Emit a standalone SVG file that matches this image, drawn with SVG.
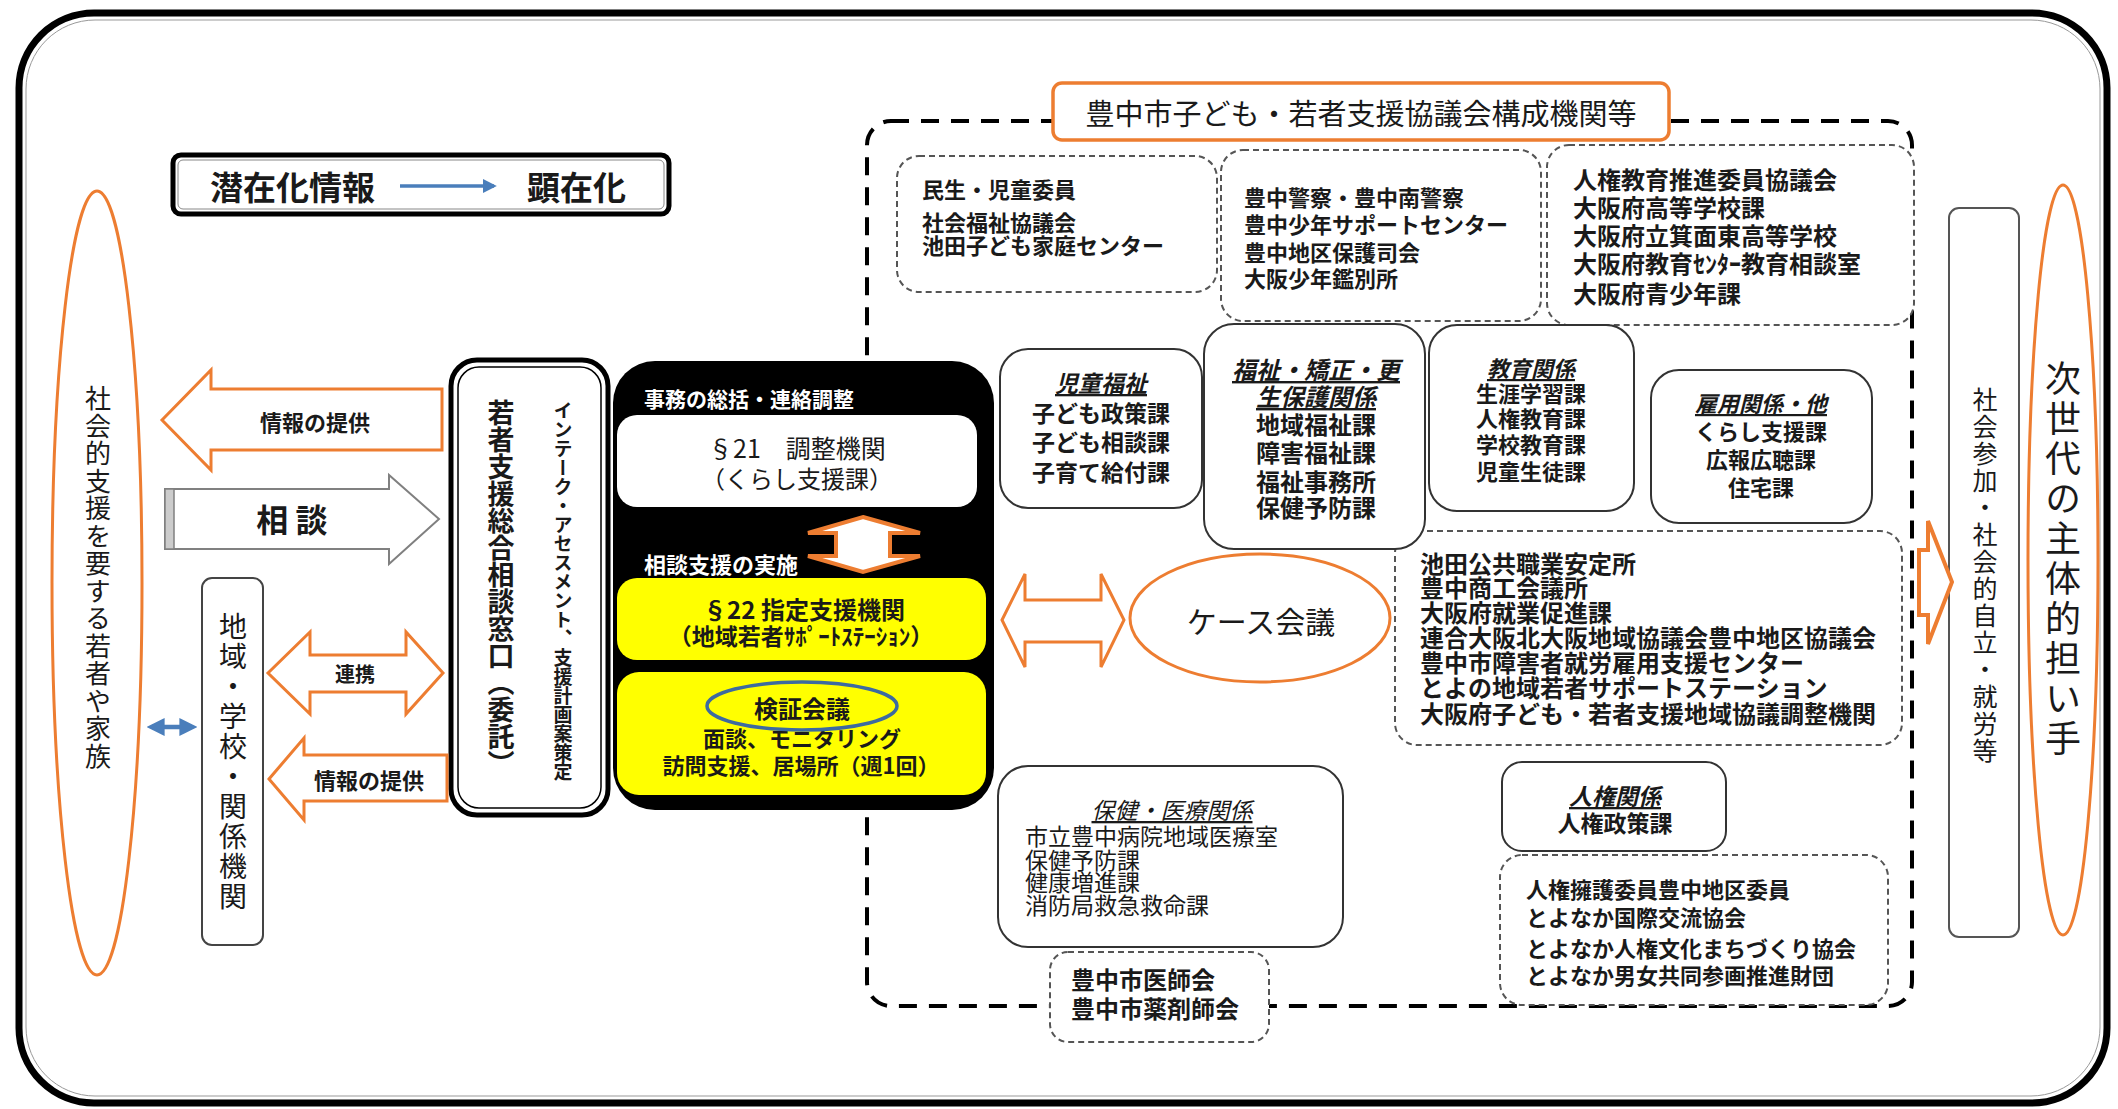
<svg xmlns="http://www.w3.org/2000/svg" width="2118" height="1109" viewBox="0 0 2118 1109">
<defs>
<style>
text{font-family:"Noto Sans CJK JP","Noto Sans CJK SC",sans-serif;fill:#1a1a1a;dominant-baseline:central;}
.b{font-weight:bold;}
.w{fill:#ffffff;font-weight:bold;}
.m{text-anchor:middle;}
.v{writing-mode:vertical-rl;text-anchor:middle;dominant-baseline:auto;}
.hd{font-style:italic;text-decoration:underline;}
.org{fill:#ffffff;stroke:#ed7d31;stroke-width:3;}
.dbox{fill:#ffffff;stroke:#555555;stroke-width:2;stroke-dasharray:6 4;}
.sbox{fill:#ffffff;stroke:#333333;stroke-width:2;}
.yel{fill:#ffff00;stroke:none;}
</style>
<marker id="bh" viewBox="0 0 10 10" refX="7" refY="5" markerWidth="4" markerHeight="4" orient="auto-start-reverse"><path d="M0,0 L10,5 L0,10 z" fill="#4a7ebb"/></marker>
<marker id="ah" viewBox="0 0 10 10" refX="8" refY="5" markerWidth="4" markerHeight="4" orient="auto"><path d="M0,0 L10,5 L0,10 z" fill="#4a7ebb"/></marker>
</defs>

<rect x="0" y="0" width="2118" height="1109" fill="#ffffff"/>

<!-- outer frame -->
<g id="frame">
<rect x="19" y="13" width="2088" height="1090" rx="75" fill="none" stroke="#000" stroke-width="7"/>
<rect x="26" y="20" width="2074" height="1076" rx="69" fill="none" stroke="#999" stroke-width="1"/>
</g>

<!-- big dashed frame -->
<g id="council-frame">
<rect x="867" y="121" width="1045" height="885" rx="24" fill="none" stroke="#000" stroke-width="4" stroke-dasharray="18 12"/>
</g>

<!-- legend -->
<g id="legend">
<rect x="173" y="155" width="496" height="59" rx="8" fill="#fff" stroke="#000" stroke-width="5"/>
<rect x="178" y="160" width="486" height="49" rx="5" fill="none" stroke="#888" stroke-width="1"/>
<text x="210" y="186" class="b" font-size="33">潜在化情報</text>
<text x="527" y="186" class="b" font-size="33">顕在化</text>
<line x1="400" y1="186" x2="494" y2="186" stroke="#4a7ebb" stroke-width="3.5" marker-end="url(#ah)"/>
</g>

<!-- left ellipse -->
<g id="youth">
<ellipse cx="97" cy="583" rx="45" ry="392" fill="none" stroke="#ed7d31" stroke-width="3"/>
<text x="98" y="578" class="v" font-size="26" letter-spacing="1.5" fill="#333">社会的支援を要する若者や家族</text>
</g>

<!-- region box -->
<g id="region">
<rect x="202" y="578" width="61" height="367" rx="10" fill="#fff" stroke="#444" stroke-width="2"/>
<text x="233" y="762" class="v" font-size="28" letter-spacing="2">地域・学校・関係機関</text>
</g>

<!-- consultation window -->
<g id="window">
<rect x="451" y="360" width="157" height="455" rx="26" fill="#fff" stroke="#000" stroke-width="5"/>
<rect x="458" y="367" width="143" height="441" rx="21" fill="none" stroke="#000" stroke-width="1.5"/>
<text x="501" y="588" class="v b" font-size="27">若者支援総合相談窓口（委託）</text>
<text x="563" y="591" class="v b" font-size="19">インテーク・アセスメント、支援計画案策定</text>
</g>

<!-- black box -->
<g id="core">
<rect x="613" y="361" width="381" height="449" rx="42" fill="#000"/>
<text x="644" y="398" class="w" font-size="21">事務の総括・連絡調整</text>
<rect x="617" y="415" width="360" height="92" rx="20" fill="#fff"/>
<text class="m" font-size="25"><tspan x="797" y="447">§21　調整機関</tspan><tspan x="797" y="477" font-size="24">（くらし支援課）</tspan></text>
<text x="644" y="563" class="w" font-size="22">相談支援の実施</text>
<rect x="617" y="578" width="369" height="82" rx="20" class="yel"/>
<text class="m b" font-size="24"><tspan x="804" y="608">§22 指定支援機関</tspan><tspan x="801" y="635" font-size="23">（地域若者ｻﾎﾟｰﾄｽﾃｰｼｮﾝ）</tspan></text>
<rect x="617" y="672" width="369" height="123" rx="22" class="yel"/>
<text class="m b" font-size="22"><tspan x="802" y="707" font-size="24">検証会議</tspan><tspan x="802" y="737">面談、モニタリング</tspan><tspan x="801" y="764">訪問支援、居場所（週1回）</tspan></text>
<ellipse cx="802" cy="706" rx="95" ry="24" fill="none" stroke="#3d6aa0" stroke-width="3.5"/>
</g>

<!-- council title -->
<g id="council-title">
<rect x="1053" y="83" width="616" height="57" rx="9" fill="#fff" stroke="#ed7d31" stroke-width="3.5"/>
<text x="1361" y="112" class="m" font-size="29" fill="#333">豊中市子ども・若者支援協議会構成機関等</text>
</g>

<!-- dashed member boxes -->
<g id="box-minsei">
<rect x="897" y="156" width="320" height="136" rx="22" class="dbox"/>
<text class="b" font-size="22"><tspan x="922" y="188">民生・児童委員</tspan><tspan x="922" y="221">社会福祉協議会</tspan><tspan x="922" y="244">池田子ども家庭センター</tspan></text>
</g>
<g id="box-police">
<rect x="1221" y="150" width="320" height="171" rx="22" class="dbox"/>
<text class="b" font-size="22"><tspan x="1244" y="196">豊中警察・豊中南警察</tspan><tspan x="1244" y="223">豊中少年サポートセンター</tspan><tspan x="1244" y="251">豊中地区保護司会</tspan><tspan x="1244" y="277">大阪少年鑑別所</tspan></text>
</g>
<g id="box-jinken-edu">
<rect x="1547" y="145" width="367" height="180" rx="22" class="dbox"/>
<text class="b" font-size="24"><tspan x="1573" y="178">人権教育推進委員協議会</tspan><tspan x="1573" y="206">大阪府高等学校課</tspan><tspan x="1573" y="234">大阪府立箕面東高等学校</tspan><tspan x="1573" y="262">大阪府教育ｾﾝﾀｰ教育相談室</tspan><tspan x="1573" y="292">大阪府青少年課</tspan></text>
</g>
<g id="box-employment-org">
<rect x="1395" y="531" width="507" height="214" rx="22" class="dbox"/>
<text class="b" font-size="24"><tspan x="1420" y="562">池田公共職業安定所</tspan><tspan x="1420" y="586">豊中商工会議所</tspan><tspan x="1420" y="611">大阪府就業促進課</tspan><tspan x="1420" y="636">連合大阪北大阪地域協議会豊中地区協議会</tspan><tspan x="1420" y="661">豊中市障害者就労雇用支援センター</tspan><tspan x="1420" y="686">とよの地域若者サポートステーション</tspan><tspan x="1420" y="712">大阪府子ども・若者支援地域協議調整機関</tspan></text>
</g>
<g id="box-medical-assoc">
<rect x="1050" y="952" width="219" height="90" rx="18" class="dbox"/>
<text class="b" font-size="24"><tspan x="1071" y="978">豊中市医師会</tspan><tspan x="1071" y="1007">豊中市薬剤師会</tspan></text>
</g>
<g id="box-jinken-org">
<rect x="1500" y="855" width="388" height="150" rx="22" class="dbox"/>
<text class="b" font-size="22"><tspan x="1526" y="888">人権擁護委員豊中地区委員</tspan><tspan x="1526" y="916">とよなか国際交流協会</tspan><tspan x="1526" y="947">とよなか人権文化まちづくり協会</tspan><tspan x="1526" y="974">とよなか男女共同参画推進財団</tspan></text>
</g>

<!-- solid department boxes -->
<g id="box-child">
<rect x="1000" y="349" width="202" height="159" rx="28" class="sbox"/>
<text class="m b" font-size="23"><tspan x="1101" y="382" class="hd">児童福祉</tspan><tspan x="1101" y="412">子ども政策課</tspan><tspan x="1101" y="441">子ども相談課</tspan><tspan x="1101" y="471">子育て給付課</tspan></text>
</g>
<g id="box-welfare">
<rect x="1204" y="324" width="221" height="225" rx="30" class="sbox"/>
<text class="m b" font-size="24"><tspan x="1316" y="368" class="hd">福祉・矯正・更</tspan><tspan x="1316" y="395" class="hd">生保護関係</tspan><tspan x="1316" y="423">地域福祉課</tspan><tspan x="1316" y="451">障害福祉課</tspan><tspan x="1316" y="480">福祉事務所</tspan><tspan x="1316" y="506">保健予防課</tspan></text>
</g>
<g id="box-education">
<rect x="1429" y="325" width="205" height="186" rx="28" class="sbox"/>
<text class="m b" font-size="22"><tspan x="1531" y="367" class="hd">教育関係</tspan><tspan x="1531" y="392">生涯学習課</tspan><tspan x="1531" y="417">人権教育課</tspan><tspan x="1531" y="443">学校教育課</tspan><tspan x="1531" y="470">児童生徒課</tspan></text>
</g>
<g id="box-employment">
<rect x="1651" y="370" width="221" height="153" rx="28" class="sbox"/>
<text class="m b" font-size="22"><tspan x="1761" y="402" class="hd">雇用関係・他</tspan><tspan x="1761" y="430">くらし支援課</tspan><tspan x="1761" y="458">広報広聴課</tspan><tspan x="1761" y="486">住宅課</tspan></text>
</g>
<g id="box-health">
<rect x="998" y="766" width="345" height="181" rx="30" class="sbox"/>
<text font-size="23"><tspan x="1172" y="809" class="hd m">保健・医療関係</tspan><tspan x="1025" y="835">市立豊中病院地域医療室</tspan><tspan x="1025" y="859">保健予防課</tspan><tspan x="1025" y="881">健康増進課</tspan><tspan x="1025" y="904">消防局救急救命課</tspan></text>
</g>
<g id="box-jinken">
<rect x="1502" y="762" width="224" height="89" rx="20" class="sbox"/>
<text class="m b" font-size="23"><tspan x="1615" y="795" class="hd">人権関係</tspan><tspan x="1615" y="822">人権政策課</tspan></text>
</g>

<!-- case meeting -->
<g id="case-meeting">
<ellipse cx="1260" cy="618" rx="130" ry="64" fill="#fff" stroke="#ed7d31" stroke-width="3"/>
<text x="1261" y="620" class="m" font-size="30">ケース会議</text>
</g>

<!-- outcome box -->
<g id="outcome">
<rect x="1949" y="208" width="70" height="729" rx="10" fill="#fff" stroke="#555" stroke-width="2"/>
<text x="1985" y="576" class="v" font-size="25" letter-spacing="2" fill="#333">社会参加・社会的自立・就労等</text>
</g>

<!-- next generation ellipse -->
<g id="next-gen">
<ellipse cx="2063" cy="560" rx="35" ry="375" fill="none" stroke="#ed7d31" stroke-width="3"/>
<text x="2063" y="560" class="v" font-size="36" letter-spacing="4">次世代の主体的担い手</text>
</g>

<!-- connectors -->
<g id="connectors">
<polygon class="org" points="162,420 211,370 211,389 442,389 442,450 211,450 211,470"/>
<text x="315" y="421" class="m b" font-size="22">情報の提供</text>

<polygon points="165,489 389,489 389,475 439,519 389,564 389,549 165,549" fill="#fff" stroke="#808080" stroke-width="2"/>
<rect x="165" y="489" width="9" height="60" fill="#cccccc" stroke="#808080" stroke-width="1.5"/>
<text x="292" y="518" class="m b" font-size="32">相 談</text>

<polygon class="org" points="268,673 310,632 310,655 406,655 406,632 443,673 406,714 406,692 310,692 310,714"/>
<text x="355" y="673" class="m b" font-size="20">連携</text>

<polygon class="org" points="269,779 304,738 304,755 447,755 447,801 304,801 304,820"/>
<text x="369" y="779" class="m b" font-size="22">情報の提供</text>

<line x1="152" y1="727" x2="192" y2="727" stroke="#4a7ebb" stroke-width="4.5" marker-start="url(#bh)" marker-end="url(#bh)"/>

<polygon points="863,517 920,533 890,533 890,556 920,556 863,572 808,556 836,556 836,533 808,533" fill="#fff" stroke="#ed7d31" stroke-width="4"/>

<polygon class="org" points="1002,620 1025,574 1025,600 1101,600 1101,574 1124,620 1101,667 1101,642 1025,642 1025,667"/>

<polygon points="1919,550 1928,550 1928,521 1952,582 1928,644 1928,615 1919,615" fill="#fff" stroke="#ed7d31" stroke-width="4"/>
</g>
</svg>
